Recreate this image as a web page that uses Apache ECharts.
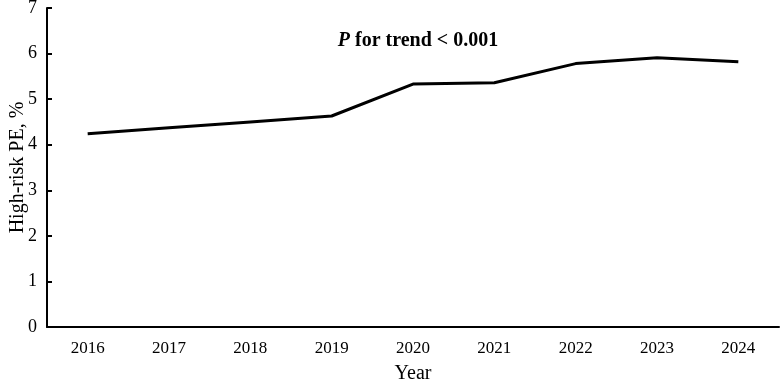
<!DOCTYPE html>
<html>
<head>
<meta charset="utf-8">
<script src="https://cdn.jsdelivr.net/npm/echarts@6/dist/echarts.min.js"></script>
<style>
  html, body { margin: 0; padding: 0; background: #fff; }
  #line { width: 782px; height: 382px; }
</style>
</head>
<body>
<div id="line"></div>
<script>
// data
const years = ['2016', '2017', '2018', '2019', '2020', '2021', '2022', '2023', '2024']
const highRiskPE = [4.24, 4.37, 4.50, 4.63, 5.33, 5.36, 5.78, 5.91, 5.82]
const yTicks = [0, 1, 2, 3, 4, 5, 6, 7]

const myChart = echarts.init(document.querySelector('#line'))

const font = 'Liberation Serif'

const option = {
  animation: false,
  title: {
    text: '{i|P} for trend < 0.001',
    left: 413,
    textAlign: 'center',
    top: 26,
    textStyle: {
      fontFamily: font,
      fontSize: 20,
      fontWeight: 'bold',
      color: '#000',
      rich: {
        i: { fontFamily: font, fontSize: 20, fontWeight: 'bold', fontStyle: 'italic', color: '#000' }
      }
    }
  },
  grid: {
    left: 47,
    right: 3,
    top: 8,
    bottom: 55,
    containLabel: false,
    outerBoundsMode: 'none'
  },
  xAxis: {
    type: 'category',
    data: years,
    boundaryGap: true,
    name: 'Year',
    nameLocation: 'middle',
    nameGap: 37,
    nameMoveOverlap: false,
    nameTextStyle: { fontFamily: font, fontSize: 20, color: '#000' },
    axisLine: { lineStyle: { color: '#000', width: 2 } },
    axisTick: { alignWithLabel: true, inside: true, length: 5, lineStyle: { color: '#000', width: 2 } },
    axisLabel: { fontFamily: font, fontSize: 17, color: '#000', margin: 13 },
    splitLine: { show: false }
  },
  yAxis: {
    type: 'value',
    min: yTicks[0],
    max: yTicks[yTicks.length - 1],
    interval: 1,
    name: 'High-risk PE, %',
    nameLocation: 'middle',
    nameGap: 19,
    nameMoveOverlap: false,
    nameTextStyle: { fontFamily: font, fontSize: 20, color: '#000' },
    axisLine: { show: true, lineStyle: { color: '#000', width: 2 } },
    axisTick: { show: true, inside: true, length: 5, lineStyle: { color: '#000', width: 2 } },
    axisLabel: { fontFamily: font, fontSize: 18, color: '#000', margin: 10 },
    splitLine: { show: false }
  },
  series: [
    {
      type: 'line',
      data: highRiskPE,
      symbol: 'none',
      lineStyle: { color: '#000', width: 3 }
    }
  ]
}

myChart.setOption(option)
</script>
</body>
</html>
